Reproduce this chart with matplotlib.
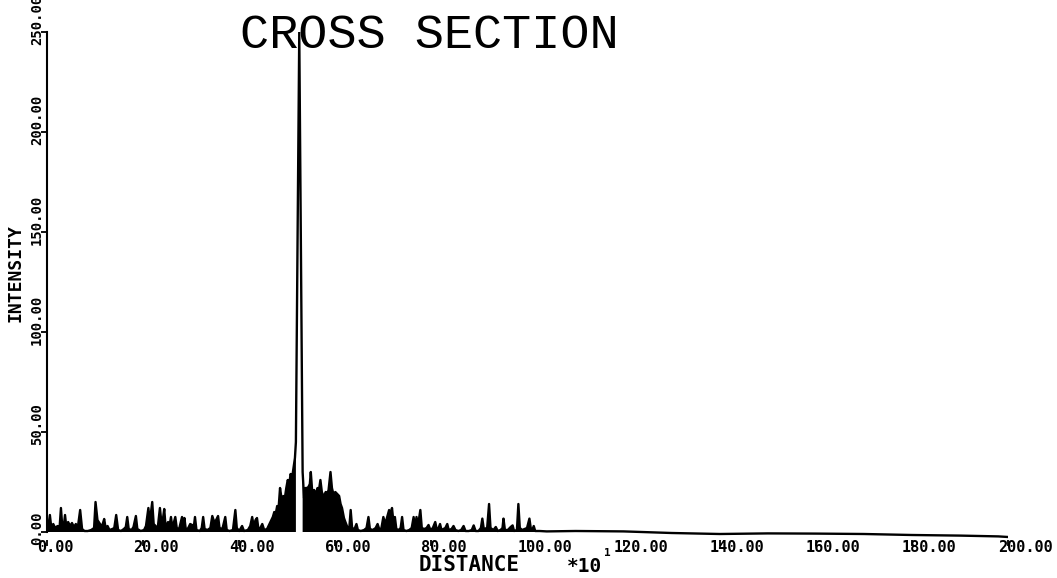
import matplotlib
matplotlib.use("Agg")
import numpy as np
import matplotlib.pyplot as plt
from matplotlib.transforms import ScaledTranslation

# Cross section trace (distance in units of 10)
dist = [0.0, 0.3, 0.6, 0.9, 1.3, 1.7, 2.2, 2.6, 2.9, 3.2, 3.5, 3.75, 4.0, 4.4, 4.8,
        5.2, 5.6, 6.0, 6.4, 6.9, 7.3, 7.8, 8.5, 9.2, 9.8, 10.1, 10.5, 10.9, 11.3,
        11.6, 11.9, 12.2, 12.6, 13.0, 13.6, 14.0, 14.4, 14.8, 15.4, 16.0, 16.4,
        16.7, 17.0, 17.6, 18.0, 18.5, 18.8, 19.5, 20.2, 20.6, 21.1, 21.4, 21.9,
        22.2, 22.6, 23.0, 23.5, 23.8, 24.1, 24.4, 24.7, 25.2, 25.5, 25.8, 26.1,
        26.7, 27.0, 27.5, 28.1, 28.4, 28.6, 28.9, 29.4, 29.8, 30.2, 30.5, 30.8,
        31.1, 31.8, 32.2, 32.5, 32.8, 33.4, 34.0, 34.4, 34.8, 35.2, 35.6, 35.9,
        36.5, 37.1, 37.4, 38.0, 38.7, 39.2, 39.5, 40.0, 40.6, 41.0, 41.8, 42.3,
        42.7, 43.0, 43.4, 43.7, 44.0, 44.4, 44.8, 45.2, 45.8, 46.3, 46.7, 47.0,
        47.3, 47.6, 47.9, 48.2, 48.5, 48.8, 49.2, 49.5, 49.8, 50.1, 50.4, 50.7,
        51.0, 51.3, 51.6, 51.8, 52.5, 53.2, 53.5, 53.8, 54.1, 54.4, 54.7, 54.9,
        55.2, 55.6, 56.0, 56.3, 56.6, 56.9, 57.2, 57.6, 58.0, 58.3, 58.6, 59.0,
        59.3, 59.6, 60.0, 60.4, 60.8, 61.1, 61.4, 61.8, 62.1, 62.5, 62.9, 63.2,
        63.5, 64.0, 64.4, 64.7, 65.3, 66.0, 66.5, 66.9, 67.2, 67.8, 68.4, 68.8,
        69.2, 69.6, 70.0, 70.4, 70.8, 71.2, 71.5, 71.8, 72.1, 72.4, 72.7, 73.2,
        73.6, 73.9, 74.2, 74.8, 75.4, 75.9, 76.3, 76.6, 76.9, 77.2, 77.7, 78.0,
        78.5, 79.0, 79.4, 79.8, 80.3, 80.8, 81.1, 81.5, 81.8, 82.1, 82.5, 82.9,
        83.3, 83.6, 84.2, 84.6, 85.0, 85.6, 86.2, 86.7, 87.1, 87.8, 88.4, 88.8,
        89.2, 89.8, 90.3, 90.6, 90.9, 91.6, 92.0, 92.3, 92.9, 93.4, 93.8, 94.4,
        94.8, 95.0, 95.3, 95.9, 96.5, 96.9, 97.2, 97.8, 98.1, 98.4, 98.9, 99.4,
        99.9, 100.4, 100.7, 101.0, 101.3, 101.6, 102.5, 104.0, 110.0, 120.0,
        130.0, 140.0, 150.0, 160.0, 170.0, 180.0, 190.0, 198.0, 200.0]
inten = [1, 3, 8.5, 2, 4, 2, 3, 1.5, 12, 2, 3, 8.5, 3, 5, 3,
         4.5, 2.5, 4, 2, 11, 1.5, 0.5, 0.5, 1, 2, 15, 6, 4.5, 3,
         4, 6.5, 2, 3, 1, 1.5, 2, 8.5, 1, 0.5, 1.5, 2.5,
         7.5, 1.5, 1, 2.5, 8, 1.5, 0.5, 1, 3, 12, 5, 15,
         4, 3, 1, 12, 5, 6, 11.5, 2, 5, 3, 7.5, 2,
         7.5, 2, 1.5, 7.5, 3, 7, 1, 2, 4, 3.5, 1.5, 7.5,
         1, 0.5, 2, 7.5, 1.5, 1, 2, 8, 5, 6, 8, 2,
         1.5, 7.5, 1, 0.5, 1, 11, 2, 0.5, 3, 0.5, 1, 3,
         7.5, 3, 6, 7, 1.5, 2, 4, 1, 1.5, 4, 6, 7.5,
         10, 9, 13, 12, 22, 17, 18, 17, 22, 26, 24, 29,
         27, 32, 37, 45, 250, 30, 17, 22, 22, 22.5, 24, 30,
         20, 21, 19, 22, 21, 26, 20, 17.5, 20, 19, 21, 30,
         22, 19, 20, 19, 18, 14, 12, 7, 5, 2.5, 1.5, 11,
         2, 1.5, 4, 1, 0.5, 1, 2, 7.5, 1.5, 1, 2, 4,
         1, 2, 7.5, 4, 7.5, 11, 9, 12, 5, 7.5, 1.5, 1,
         2, 7.5, 1, 0.5, 1, 2, 7.5, 2, 7.5, 3, 11, 2,
         1.5, 2, 3.5, 1, 2, 5, 1.5, 2, 4, 1, 1.5, 2,
         4, 1, 1.5, 3, 1, 0.5, 1, 3, 0.5, 0.5, 1, 3.3,
         0.5, 0.5, 2, 6.7, 1.5, 2, 14, 2, 1, 2.5, 0.5, 1,
         2, 6.7, 1, 1, 2.5, 3.3, 0.5, 1, 14, 2, 1, 1.5,
         2, 6.7, 1.5, 1, 3, 0.5, 0.5, 0.3, 0.5, 0.3,
         -0.5, -1, -0.7, -0.8, -1, -1.5, -1.8, -2.2, -2.5]

xticks = [0, 20, 40, 60, 80, 100, 120, 140, 160, 180, 200]
yticks = [0, 50, 100, 150, 200, 250]

W, H = 1057, 578
fig = plt.figure(figsize=(W / 100, H / 100), dpi=100)
ax = fig.add_axes([47 / W, 1 - 540 / H, 961 / W, 508 / H])

d = np.array(dist)
v = np.array(inten)
peak = v.argmax()
fill_ok = (d < 105) & (np.arange(len(d)) != peak)

ax.fill_between(d, 0, v, where=fill_ok, color="black", lw=0)
ax.plot(d, v, color="black", lw=1.7)

ax.set_xlim(0, 200)
ax.set_ylim(-4, 250)
for s in ["top", "right", "bottom"]:
    ax.spines[s].set_visible(False)
ax.spines["left"].set_bounds(0, 250)
ax.spines["left"].set_linewidth(1.5)

ax.set_xticks(xticks)
ax.set_yticks(yticks)
ax.set_xticklabels([])
ax.set_yticklabels([])
ax.tick_params(direction="out", length=4, width=1.3)

mono = dict(family="DejaVu Sans Mono", weight="bold")

# x tick labels start a little left of the tick, plotter style
xoff = ax.get_xaxis_transform() + ScaledTranslation(-10 / 100, 0, fig.dpi_scale_trans)
for t in xticks:
    ax.text(t, -0.0138, f"{t:.2f}", transform=xoff, ha="left", va="center",
            fontsize=11, **mono)

# y tick labels rotated, starting a little below the tick
yoff = ax.get_yaxis_transform() + ScaledTranslation(0, -13 / 100, fig.dpi_scale_trans)
for t in yticks:
    ax.text(-0.0104, t, f"{t:.2f}", transform=yoff, rotation=90, ha="center",
            va="bottom", fontsize=10, **mono)

fig.text(240 / W, 1 - 35 / H, "CROSS SECTION", family="Liberation Mono",
         fontsize=35, ha="left", va="center")
fig.text(15 / W, 1 - 273 / H, "INTENSITY", rotation=90, ha="center", va="center",
         fontsize=13, **mono)
fig.text(419 / W, 1 - 565 / H, "DISTANCE", ha="left", va="center", fontsize=15, **mono)
fig.text(567 / W, 1 - 566 / H, "*10", ha="left", va="center", fontsize=14, **mono)
fig.text(604 / W, 1 - 553 / H, "1", ha="left", va="center", fontsize=8, **mono)

fig.savefig("out.png", dpi=100)
